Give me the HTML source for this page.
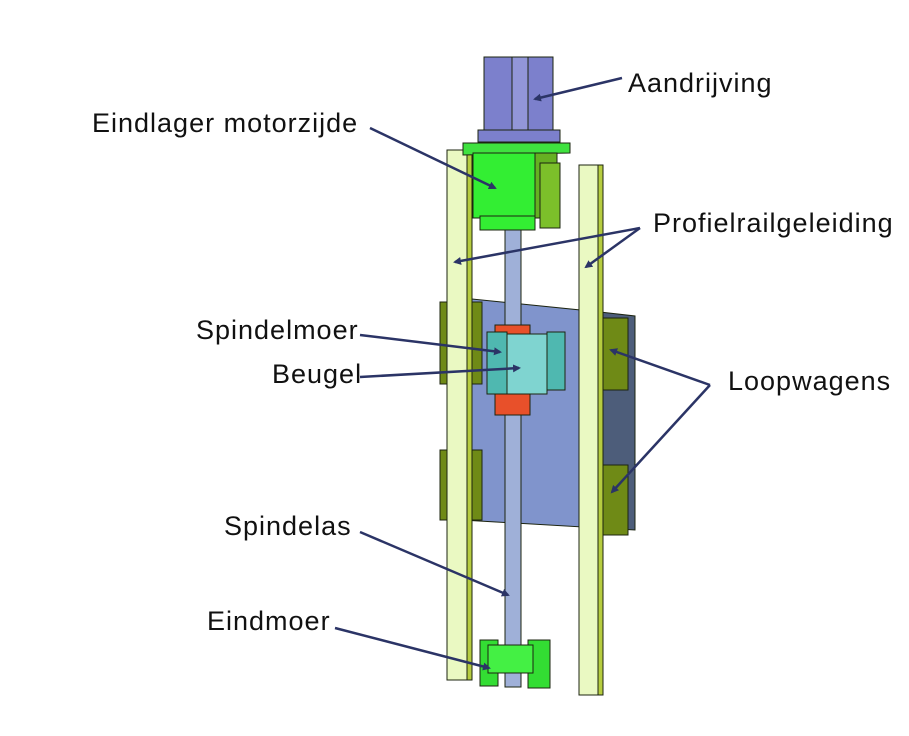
<!DOCTYPE html>
<html><head><meta charset="utf-8"><style>
html,body{margin:0;padding:0;background:#fff;}
svg{display:block;}
text{font-family:"Liberation Sans",sans-serif;font-size:27px;letter-spacing:1px;fill:#111;}
</style></head><body>
<svg width="909" height="736" viewBox="0 0 909 736" xmlns="http://www.w3.org/2000/svg">
<defs>
<marker id="a" markerWidth="8" markerHeight="8" refX="6" refY="4" orient="auto" markerUnits="userSpaceOnUse">
<path d="M0,0 L8,4 L0,8 z" fill="#2b3466"/></marker>
</defs>
<g stroke="#1c2410" stroke-width="1">
<polygon points="462,298 600,312 600,528 462,520" fill="#8094cc"/>
<polygon points="600,312 635,316 635,530 600,528" fill="#4d5d7a"/>
<rect x="440" y="302" width="42" height="82" fill="#6f8a16"/>
<rect x="440" y="450" width="42" height="70" fill="#6f8a16"/>
<rect x="596" y="318" width="32" height="72" fill="#6f8a16"/>
<rect x="596" y="465" width="32" height="70" fill="#6f8a16"/>
<rect x="447" y="150" width="20" height="530" fill="#eaf9c2"/>
<rect x="467" y="150" width="5" height="530" fill="#b6cc40"/>
<rect x="579" y="165" width="19" height="530" fill="#eaf9c2"/>
<rect x="598" y="165" width="5" height="530" fill="#b6cc40"/>
<rect x="505" y="222" width="16" height="465" fill="#9fb0d8"/>
<rect x="495" y="325" width="35" height="90" fill="#e8502a"/>
<rect x="487" y="332" width="20" height="62" fill="#4fb8b0"/>
<rect x="507" y="334" width="40" height="60" fill="#7fd4d0"/>
<rect x="547" y="332" width="18" height="58" fill="#4fb8b0"/>
<rect x="484" y="57" width="69" height="85" fill="#7c80cc"/>
<rect x="512" y="57" width="16" height="85" fill="#9296d8"/>
<rect x="478" y="130" width="82" height="12" fill="#7c80cc"/>
<polygon points="463,143 570,143 570,153 463,155" fill="#3fe23f"/>
<rect x="473" y="153" width="62" height="65" fill="#33ee33"/>
<rect x="535" y="153" width="22" height="65" fill="#66b022"/>
<rect x="540" y="163" width="20" height="65" fill="#7cc02a"/>
<rect x="480" y="216" width="55" height="14" fill="#33ee33"/>
<rect x="480" y="640" width="18" height="46" fill="#33dd33"/>
<rect x="528" y="640" width="22" height="48" fill="#33dd33"/>
<rect x="488" y="645" width="45" height="28" fill="#44f044"/>
</g>
<g stroke="#2b3466" stroke-width="2.5" fill="none" marker-end="url(#a)">
<line x1="622" y1="78" x2="535" y2="99"/>
<line x1="370" y1="128" x2="495" y2="188"/>
<line x1="640" y1="228" x2="455" y2="262"/>
<line x1="640" y1="228" x2="586" y2="267"/>
<line x1="360" y1="335" x2="500" y2="352"/>
<line x1="360" y1="377" x2="519" y2="368"/>
<line x1="710" y1="385" x2="611" y2="350"/>
<line x1="710" y1="385" x2="612" y2="492"/>
<line x1="360" y1="532" x2="508" y2="595"/>
<line x1="335" y1="628" x2="489" y2="668"/>
</g>
<text x="628" y="92">Aandrijving</text>
<text x="92" y="132">Eindlager motorzijde</text>
<text x="653" y="232">Profielrailgeleiding</text>
<text x="196" y="339">Spindelmoer</text>
<text x="272" y="383">Beugel</text>
<text x="728" y="390">Loopwagens</text>
<text x="224" y="535">Spindelas</text>
<text x="207" y="630">Eindmoer</text>
</svg>
</body></html>
